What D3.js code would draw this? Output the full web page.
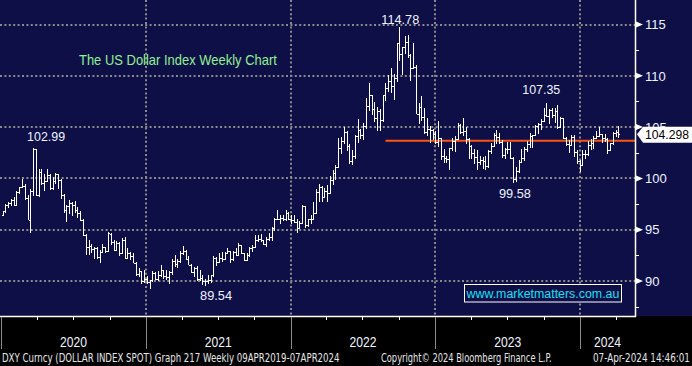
<!DOCTYPE html>
<html><head><meta charset="utf-8">
<script src="https://cdn.jsdelivr.net/npm/d3@7"></script>
<style>
html,body{margin:0;padding:0;background:#000;overflow:hidden}
svg{display:block}
text{font-family:"Liberation Sans",Arial,sans-serif}
</style></head><body>
<svg id="c" width="692" height="366"></svg>
<script>
// ---- DATA: DXY weekly OHLC, weeks ending Sunday 05-Jan-2020 .. 07-Apr-2024 ----
const open = [
96.39,96.84,97.36,97.61,97.87,97.39,98.69,99.13,99.26,98.13,95.99,98.75,102.82,98.37,100.62,99.51,99.75,100.35,99.07,99.75,100.39,99.87,98.34,96.94,97.33,97.63,97.42,96.95,96.66,95.90,94.44,93.35,93.43,93.09,93.21,92.37,92.79,93.33,92.93,94.58,93.84,93.06,93.68,92.77,94.04,92.23,92.76,92.39,91.79,90.70,90.98,90.02,90.24,
89.94,90.08,90.77,90.22,90.58,91.04,90.48,90.36,90.88,91.98,91.67,91.92,92.77,92.96,92.17,91.56,90.88,91.28,90.22,90.30,90.00,90.03,90.14,90.55,92.23,91.85,92.23,92.13,92.69,92.90,92.17,92.78,92.52,93.50,92.69,92.04,92.58,93.23,93.30,94.04,94.07,93.96,93.64,94.12,94.32,95.13,96.03,96.09,96.15,96.08,96.63,96.01,
95.97,95.74,95.17,95.64,97.28,95.49,96.04,96.05,96.60,98.66,99.12,98.20,98.79,98.62,99.83,100.50,101.12,102.96,103.66,104.56,103.15,101.67,102.14,104.15,104.70,104.20,105.13,107.01,108.08,106.73,105.90,106.61,105.70,108.16,108.81,109.54,109.00,109.76,113.19,112.12,112.80,113.31,111.99,110.76,110.81,106.31,106.98,106.03,104.51,104.85,104.69,104.31,
103.52,103.89,102.20,102.02,101.92,102.92,103.63,103.87,105.21,104.52,104.58,103.86,103.12,102.51,102.09,101.56,101.82,101.66,101.22,102.68,103.20,104.20,104.01,103.56,102.27,102.91,102.91,101.95,99.91,100.75,101.62,102.02,102.85,103.37,104.16,104.26,105.07,105.32,105.59,106.17,106.04,106.66,106.16,106.56,105.02,105.88,103.92,103.40,103.27,103.99,102.56,101.70,
101.33,102.42,102.40,103.29,103.44,103.92,104.11,104.29,103.94,103.87,102.73,103.43,104.43,104.55];
const high = [
96.85,97.47,97.66,97.96,98.19,98.75,99.16,99.91,99.45,98.41,98.98,102.99,102.91,100.93,100.88,100.42,100.94,100.44,100.17,100.56,100.44,99.98,98.49,97.38,97.85,97.72,97.80,97.20,96.85,96.05,94.58,93.99,93.64,93.29,93.28,93.02,93.64,93.36,94.74,94.66,94.03,93.90,93.78,94.16,94.31,93.21,92.86,92.73,91.89,91.26,91.00,91.03,90.47,
90.14,90.95,90.85,90.93,91.60,91.12,91.05,91.02,92.11,92.51,92.17,92.92,93.44,93.00,92.47,91.70,91.39,91.44,91.04,90.58,90.17,90.63,90.58,92.41,92.35,92.74,92.84,92.83,93.19,92.95,92.90,93.20,93.73,93.50,92.75,92.73,93.28,93.53,94.50,94.50,94.56,94.04,94.29,94.63,95.27,96.14,96.94,96.45,96.45,96.91,96.69,96.46,
96.46,96.08,95.84,97.44,97.35,96.06,96.43,97.74,98.92,99.42,99.29,99.10,99.37,100.19,100.78,101.31,103.93,104.07,105.01,104.66,103.31,102.74,104.20,105.79,104.79,105.43,107.79,109.29,108.15,107.43,106.93,106.81,108.16,109.27,110.03,110.79,110.15,113.19,114.78,112.85,113.92,113.95,112.12,113.15,111.08,107.35,107.99,106.88,105.91,105.14,104.86,104.59,
105.63,103.95,102.90,102.21,103.01,103.96,104.12,105.36,105.34,105.88,104.98,103.89,103.22,102.82,102.80,102.19,102.10,102.22,102.73,103.49,104.42,104.70,104.40,103.75,103.01,103.54,103.55,102.04,101.15,101.84,102.84,103.04,103.68,104.44,104.27,105.16,105.43,105.78,106.84,107.35,106.80,106.83,106.89,107.11,106.01,105.92,104.00,103.70,104.26,104.27,102.73,101.81,
102.73,102.76,103.69,103.82,104.11,104.60,104.97,104.37,104.29,103.93,103.49,104.49,104.73,105.10];
const low = [
96.36,96.58,97.10,97.29,97.32,97.35,98.49,99.07,97.91,95.93,94.65,98.30,98.27,98.23,99.39,98.81,99.73,98.83,98.88,99.45,98.96,98.03,96.66,95.71,96.56,96.38,96.65,96.16,95.82,94.37,92.55,92.53,92.76,92.14,92.16,91.75,92.71,92.70,92.84,93.47,92.97,92.99,92.47,92.73,92.13,92.13,92.05,91.76,90.50,90.42,89.72,89.84,89.68,
89.21,89.93,90.09,89.96,90.38,90.24,90.13,89.68,90.63,91.38,91.30,91.75,92.55,92.00,91.56,90.79,90.43,90.03,89.98,89.65,89.53,89.66,89.80,90.39,91.51,91.77,91.87,92.06,92.62,91.78,91.94,92.46,92.49,92.64,91.94,91.94,92.33,92.83,93.29,93.81,93.77,93.50,93.28,93.88,93.87,94.92,96.00,95.52,95.85,95.86,95.93,95.58,
95.61,94.63,95.03,95.54,95.14,95.26,95.51,95.91,96.49,97.71,97.72,98.05,97.69,98.60,99.33,99.82,101.05,102.35,103.36,102.66,101.43,101.30,101.86,103.41,103.86,103.72,104.86,106.58,106.21,105.54,104.64,104.64,105.50,107.58,108.44,108.36,107.68,109.39,111.48,110.06,112.08,111.73,109.54,110.63,106.27,105.34,105.64,104.37,104.11,103.45,103.79,103.38,
103.03,101.77,101.53,101.50,100.82,102.64,102.58,103.80,104.29,104.10,103.38,101.92,101.93,101.45,100.79,101.35,100.93,100.84,101.01,102.40,103.05,103.39,103.33,102.00,101.93,102.38,101.85,99.58,99.62,100.55,101.54,101.74,102.55,102.95,102.93,104.13,104.37,104.69,105.52,106.00,105.34,105.88,105.37,104.84,104.90,103.86,103.17,102.46,103.26,102.08,101.42,100.62,
101.30,101.90,102.20,102.77,102.85,103.82,104.08,103.44,103.55,102.33,102.66,103.25,104.05,103.89];
const close = [
96.84,97.36,97.61,97.87,97.39,98.69,99.13,99.26,98.13,95.99,98.75,102.82,98.37,100.62,99.51,99.75,100.35,99.07,99.75,100.39,99.87,98.34,96.94,97.33,97.63,97.42,96.95,96.66,95.90,94.44,93.35,93.43,93.09,93.21,92.37,92.79,93.33,92.93,94.64,93.84,93.06,93.68,92.77,94.04,92.23,92.76,92.39,91.79,90.70,90.98,90.02,90.24,89.94,
90.08,90.77,90.22,90.58,91.04,90.48,90.36,90.88,91.98,91.67,91.92,92.77,92.96,92.17,91.56,90.88,91.28,90.22,90.30,90.00,90.03,90.14,90.55,92.23,91.85,92.23,92.13,92.69,92.90,92.17,92.78,92.52,93.50,92.69,92.04,92.58,93.23,93.30,94.04,94.07,93.96,93.64,94.12,94.32,95.13,96.03,96.09,96.15,96.08,96.63,96.01,95.97,
95.74,95.17,95.64,97.28,95.49,96.04,96.05,96.60,98.66,99.12,98.20,98.79,98.62,99.83,100.50,101.12,102.96,103.66,104.56,103.15,101.67,102.14,104.15,104.70,104.20,105.13,107.01,108.08,106.73,105.90,106.61,105.70,108.16,108.81,109.54,109.00,109.76,113.19,112.12,112.80,113.31,111.99,110.76,110.81,106.31,106.98,106.03,104.51,104.85,104.69,104.31,103.52,
103.89,102.20,102.02,101.92,102.92,103.63,103.87,105.21,104.52,104.58,103.86,103.12,102.51,102.09,101.56,101.82,101.66,101.22,102.68,103.20,104.20,104.01,103.56,102.27,102.91,102.91,101.95,99.91,100.75,101.62,102.02,102.85,103.37,104.16,104.26,105.07,105.32,105.59,106.17,106.04,106.66,106.16,106.56,105.02,105.88,103.92,103.40,103.27,103.99,102.56,101.70,101.33,
102.42,102.40,103.29,103.44,103.92,104.11,104.29,103.94,103.87,102.73,103.43,104.43,104.55,104.298];

const yTickValues = [90, 95, 100, 105, 110, 115];
const yMinorValues = [87.5, 92.5, 97.5, 102.5, 107.5, 112.5];
const yearLabels = ["2020", "2021", "2022", "2023", "2024"];
const lastPriceLabel = "104.298";
const supportLevel = 103.67;
const supportStart = "2022-08-28";
const annTexts  = ["102.99", "114.78", "107.35", "99.58", "89.54"];
const annValues = [102.99, 114.78, 107.35, 99.58, 89.54];
const annDates  = ["2020-03-22", "2022-10-02", "2023-10-08", "2023-07-16", "2021-05-30"];
const titleText = "The US Dollar Index Weekly Chart";
const watermark = "www.marketmatters.com.au";
const footerLeft = "DXY Curncy (DOLLAR INDEX SPOT) Graph 217  Weekly 09APR2019-07APR2024";
const footerMid = "Copyright\u00A9 2024 Bloomberg Finance L.P.";
const footerRight = "07-Apr-2024 14:46:01";

// ---- LAYOUT ----
const W = 692, H = 366, plotR = 635, plotB = 316;
const NAVY = "#0f0f48", GRID = "#8a8a8a", TXT = "#eef3ff";
const svg = d3.select("#c");
const parse = d3.timeParse("%Y-%m-%d");

// put text at (tx,ty) and squeeze it horizontally to a given width
function fitText(sel, tx, ty, width, anchor) {
  sel.attr("x", 0).attr("y", 0);
  const nat = sel.node().getComputedTextLength();
  const k = width / nat;
  const left = anchor === "middle" ? tx - width / 2 : tx;
  sel.attr("transform", `translate(${left},${ty}) scale(${k},1)`);
  return sel;
}

const weeks = d3.timeWeek.range(new Date(2020, 0, 5), new Date(2024, 3, 8));
const n = Math.min(weeks.length, open.length);
const bars = d3.range(n).map(i => ({d: weeks[i], o: open[i], h: high[i], l: low[i], c: close[i]}));

const x = d3.scaleTime().domain([new Date(2020, 0, 1), new Date(2024, 0, 1)]).range([1, 580]);
const y = d3.scaleLinear().domain([90, 115]).range([281, 24.5]);

// backgrounds
svg.append("rect").attr("width", W).attr("height", H).attr("fill", "#000");
svg.append("rect").attr("width", W).attr("height", plotB).attr("fill", NAVY);

const yearStarts = yearLabels.map(t => new Date(+t, 0, 1));
const rightDate = x.invert(plotR);

// grid
const g = svg.append("g");
g.selectAll("line.h").data(yTickValues).join("line")
  .attr("x1", 0).attr("x2", plotR)
  .attr("y1", d => Math.round(y(d))).attr("y2", d => Math.round(y(d)))
  .attr("stroke", GRID).attr("stroke-width", 2).attr("stroke-dasharray", "2,2.4");
g.selectAll("line.v").data(yearStarts.slice(1)).join("line")
  .attr("x1", d => Math.round(x(d))).attr("x2", d => Math.round(x(d)))
  .attr("y1", 0).attr("y2", plotB)
  .attr("stroke", GRID).attr("stroke-width", 2).attr("stroke-dasharray", "2,2.4");

// support line
svg.append("line")
  .attr("x1", x(parse(supportStart))).attr("x2", plotR)
  .attr("y1", y(supportLevel)).attr("y2", y(supportLevel))
  .attr("stroke", "#ff5410").attr("stroke-width", 2);

// OHLC bars
const bg = svg.append("g").attr("stroke", "#fff").attr("stroke-width", 1)
  .attr("shape-rendering", "crispEdges").attr("fill", "none");
bg.selectAll("path").data(bars).join("path")
  .attr("d", b => {
    const xi = Math.round(x(b.d)) + 0.5;
    const yo = Math.round(y(b.o)) + 0.5, yc = Math.round(y(b.c)) + 0.5;
    return `M${xi},${y(b.h)}V${y(b.l)}M${xi - 1.5},${yo}H${xi}M${xi},${yc}H${xi + 1.5}`;
  });

// annotations
const annDx = [13, 1, -5, 2, 11], annDy = [-7, -3, -9, 15, 14];
annTexts.forEach((t, i) => {
  const ax = x(parse(annDates[i])) + annDx[i];
  const ay = y(annValues[i]) + annDy[i];
  const s = svg.append("text").attr("font-size", 13).attr("fill", TXT).text(t);
  fitText(s, ax, ay, t.length > 5 ? 38 : 32, "middle");
});

// title
fitText(svg.append("text").attr("font-size", 14).attr("fill", "#8ff08f").text(titleText), 79, 65, 198);

// watermark
svg.append("rect").attr("x", 464.5).attr("y", 284.5).attr("width", 157).attr("height", 17.5)
  .attr("fill", NAVY).attr("stroke", "#fff").attr("stroke-width", 1);
fitText(svg.append("text").attr("font-size", 13.5).attr("fill", "#18e0f0").text(watermark), 543, 297.5, 153, "middle");

// right axis
svg.append("line").attr("x1", plotR + 0.5).attr("x2", plotR + 0.5).attr("y1", 0).attr("y2", plotB + 1)
  .attr("stroke", "#fff").attr("stroke-width", 1.5);
svg.selectAll("line.minor").data(yMinorValues.filter(v => y(v) < plotB)).join("line")
  .attr("x1", plotR).attr("x2", plotR + 4)
  .attr("y1", d => Math.round(y(d)) + 0.5).attr("y2", d => Math.round(y(d)) + 0.5)
  .attr("stroke", "#fff").attr("stroke-width", 1);
svg.selectAll("path.tri").data(yTickValues).join("path")
  .attr("d", d => { const yy = y(d); return `M${plotR + 1},${yy - 3}L${plotR + 8},${yy}L${plotR + 1},${yy + 3}Z`; })
  .attr("fill", "#fff");
svg.selectAll("text.yl").data(yTickValues).join("text")
  .attr("x", plotR + 10).attr("y", d => y(d) + 4.7)
  .attr("font-size", 13).attr("fill", TXT).text(d => d);

// last price label (covers the 105 label, as in the original)
const yp = y(close[n - 1]);
svg.append("path")
  .attr("d", `M${plotR + 2},${yp}L${plotR + 8},${yp - 7.5}H${W}V${yp + 8.5}H${plotR + 8}Z`)
  .attr("fill", "#fff");
fitText(svg.append("text").attr("font-size", 13).attr("fill", "#000").text(lastPriceLabel), plotR + 10, yp + 5, 44);

// bottom axis
svg.append("line").attr("x1", 0).attr("x2", plotR + 1).attr("y1", plotB + 0.5).attr("y2", plotB + 0.5)
  .attr("stroke", "#fff").attr("stroke-width", 1.5);
const quarters = d3.timeMonth.every(3).range(new Date(2020, 0, 1), rightDate)
  .filter(d => d.getMonth() !== 0);
svg.selectAll("line.q").data(quarters).join("line")
  .attr("x1", d => Math.round(x(d)) + 0.5).attr("x2", d => Math.round(x(d)) + 0.5)
  .attr("y1", plotB).attr("y2", plotB + 4).attr("stroke", "#fff").attr("stroke-width", 1);
svg.selectAll("line.yr").data(yearStarts).join("line")
  .attr("x1", d => Math.round(x(d)) + 0.5).attr("x2", d => Math.round(x(d)) + 0.5)
  .attr("y1", plotB + 1).attr("y2", 349).attr("stroke", GRID).attr("stroke-width", 1);
yearLabels.forEach((t, i) => {
  const a = x(yearStarts[i]);
  const b = Math.min(x(new Date(+t + 1, 0, 1)), plotR);
  fitText(svg.append("text").attr("font-size", 14).attr("fill", TXT).text(t), (a + b) / 2, 347, 27, "middle");
});

// footer
const ff = "'Liberation Sans Narrow','DejaVu Sans Condensed',sans-serif";
[[footerLeft, 2, 338], [footerMid, 381, 171], [footerRight, 593, 97]].forEach(([t, fx, len]) => {
  const s = svg.append("text").attr("font-size", 11.5)
    .style("font-family", ff).attr("fill", "#e6e6e6").text(t);
  fitText(s, fx, 362, len);
});
</script>
</body></html>
